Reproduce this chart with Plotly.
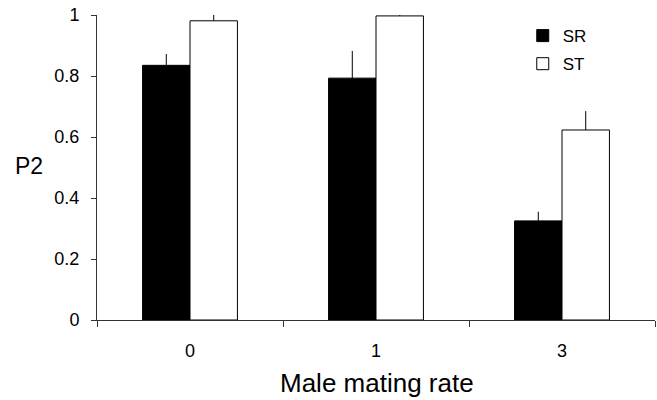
import plotly.graph_objects as go

categories = ["0", "1", "3"]
sr_values = [0.835, 0.793, 0.325]
sr_err = [0.037, 0.089, 0.03]
st_values = [0.981, 0.997, 0.623]
st_err = [0.019, 0.016, 0.062]
series_names = ["SR", "ST"]
y_ticks = [0, 0.2, 0.4, 0.6, 0.8, 1]

FONT = "Liberation Sans, Arial, sans-serif"

fig = go.Figure()
fig.add_trace(go.Bar(
    x=categories, y=sr_values, name=series_names[0], legendgroup="a",
    marker=dict(color="black", line=dict(color="black", width=1)),
    error_y=dict(type="data", symmetric=False, array=sr_err,
                 arrayminus=[0] * len(sr_err), color="black", thickness=1, width=0),
    cliponaxis=False,
))
fig.add_trace(go.Bar(
    x=categories, y=st_values, name=series_names[1], legendgroup="b",
    marker=dict(color="white", line=dict(color="black", width=1)),
    error_y=dict(type="data", symmetric=False, array=st_err,
                 arrayminus=[0] * len(st_err), color="black", thickness=1, width=0),
    cliponaxis=False,
))

fig.update_layout(
    width=657, height=400,
    margin=dict(l=97, r=2, t=15, b=80),
    paper_bgcolor="white", plot_bgcolor="white",
    font=dict(family=FONT, color="black", size=18),
    barmode="group", bargap=0.49, bargroupgap=0,
    showlegend=True,
    legend=dict(x=0.763, y=0.99, xanchor="left", yanchor="top",
                font=dict(family="Liberation Sans Narrow, Liberation Sans, sans-serif", size=17),
                tracegroupgap=3, bgcolor="rgba(0,0,0,0)", traceorder="grouped"),
    xaxis=dict(type="category", range=[-0.5, 2.5], showline=True, linecolor="#333",
               linewidth=1, ticks="outside", tickson="boundaries", ticklen=6,
               tickcolor="#333", showgrid=False, zeroline=False,
               tickfont=dict(size=18), ticklabelstandoff=14),
    yaxis=dict(range=[0, 1], tickvals=y_ticks, showline=True, linecolor="#333",
               linewidth=1, ticks="outside", ticklen=5, tickcolor="#333",
               showgrid=False, zeroline=False, tickfont=dict(size=18),
               ticklabelstandoff=8),
    annotations=[
        dict(text="P2", xref="paper", yref="paper", x=(29 - 97) / 558, y=(320 - 166) / 305,
             xanchor="center", yanchor="middle", showarrow=False, font=dict(size=23)),
        dict(text="Male mating rate", xref="paper", yref="paper", x=0.502, y=(320 - 383) / 305,
             xanchor="center", yanchor="middle", showarrow=False, font=dict(size=26)),
    ],
)

fig.write_html("out.html", config={"displayModeBar": False},
               post_script="document.body.style.margin='0';")
